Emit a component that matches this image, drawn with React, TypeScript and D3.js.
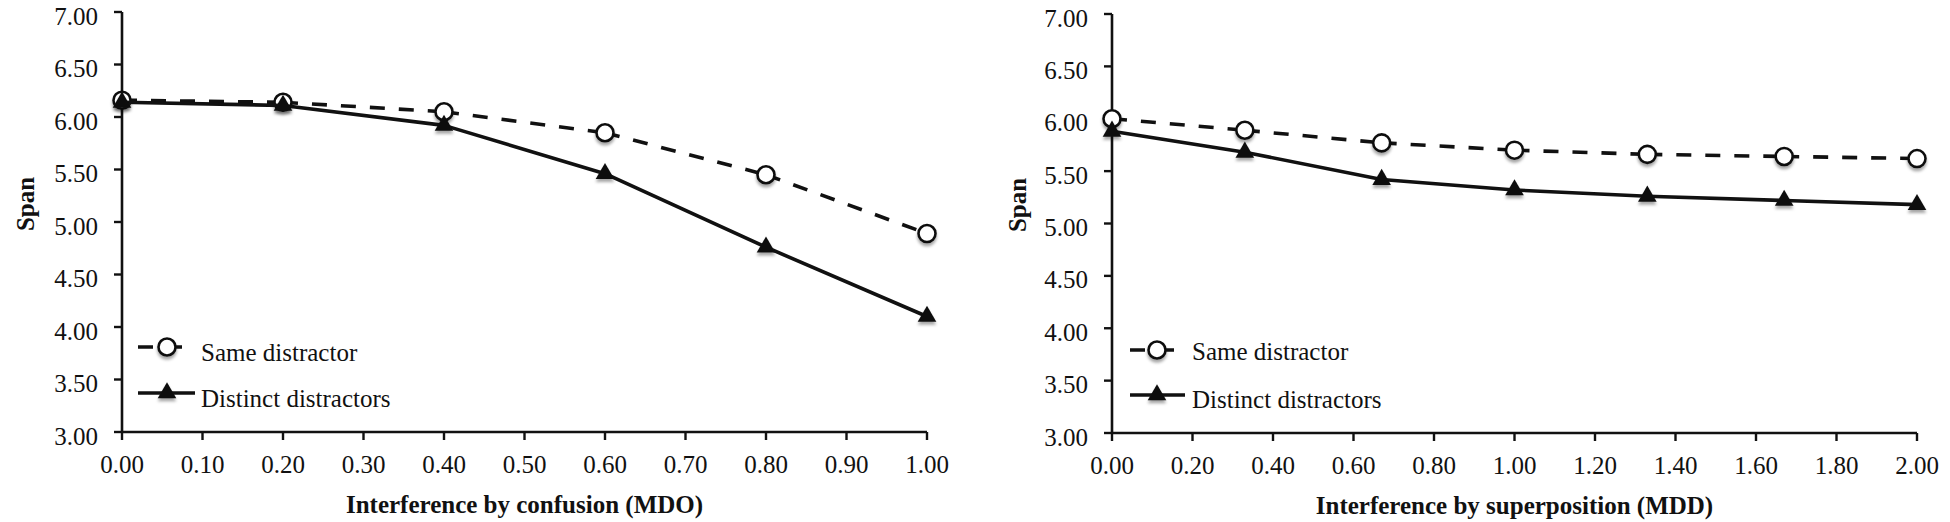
import React from 'react';
import * as d3 from 'd3';

// values
const leftX = [0, 0.2, 0.4, 0.6, 0.8, 1.0];
const leftSame = [6.16, 6.14, 6.05, 5.85, 5.45, 4.89];
const leftDistinct = [6.14, 6.11, 5.92, 5.46, 4.76, 4.10];

const rightX = [0, 0.33, 0.67, 1.0, 1.33, 1.67, 2.0];
const rightSame = [6.0, 5.89, 5.77, 5.7, 5.66, 5.64, 5.62];
const rightDistinct = [5.88, 5.68, 5.42, 5.32, 5.26, 5.22, 5.18];

const yTicks = [3, 3.5, 4, 4.5, 5, 5.5, 6, 6.5, 7];
const leftXTicks = [0, 0.1, 0.2, 0.3, 0.4, 0.5, 0.6, 0.7, 0.8, 0.9, 1.0];
const rightXTicks = [0, 0.2, 0.4, 0.6, 0.8, 1.0, 1.2, 1.4, 1.6, 1.8, 2.0];

const seriesNames = ['Same distractor', 'Distinct distractors'];

const FONT = '"Liberation Serif", "Times New Roman", serif';
const INK = '#111';
const fmt = d3.format('.2f');

interface PanelProps {
  xs: number[];
  same: number[];
  distinct: number[];
  xTicks: number[];
  xMax: number;
  left: number;
  right: number;
  top: number;
  bottom: number;
  title: string;
  titleY: number;
  span: [number, number];
  legend: { x0: number; x1: number; mx: number; tx: number; y1: number; y2: number; t1: number; t2: number };
}

const triangle = d3.symbol().type(d3.symbolTriangle).size(150)() as string;

const Circle = ({ x, y }: { x: number; y: number }) => (
  <circle cx={x} cy={y} r={8.5} fill="#fff" stroke={INK} strokeWidth={2.6} filter="url(#shadow)" />
);

const Triangle = ({ x, y }: { x: number; y: number }) => (
  <path d={triangle} transform={`translate(${x},${y})`} fill={INK} filter="url(#shadow)" />
);

const Panel: React.FC<PanelProps> = (p) => {
  const x = d3.scaleLinear().domain([0, p.xMax]).range([p.left, p.right]);
  const y = d3.scaleLinear().domain([3, 7]).range([p.bottom, p.top]);
  const line = d3.line<number>().x((_, i) => x(p.xs[i])).y((d) => y(d));

  // Excel restarts the dash pattern on every segment
  const dashedSegments = p.same.slice(1).map((v, i) => [p.same[i], v]);

  return (
    <g>
      {/* axes */}
      <line x1={p.left} x2={p.left} y1={p.top} y2={p.bottom} stroke={INK} strokeWidth={2.6} />
      <line x1={p.left} x2={p.right} y1={p.bottom} y2={p.bottom} stroke={INK} strokeWidth={2.6} />
      {yTicks.map((t) => (
        <g key={'y' + t}>
          <line x1={p.left - 8} x2={p.left} y1={y(t)} y2={y(t)} stroke={INK} strokeWidth={2.4} />
          <text x={p.left - 24} y={y(t) + 12.5} textAnchor="end" fontSize={25} fontFamily={FONT} fill={INK}>
            {fmt(t)}
          </text>
        </g>
      ))}
      {p.xTicks.map((t) => (
        <g key={'x' + t}>
          <line x1={x(t)} x2={x(t)} y1={p.bottom} y2={p.bottom + 8} stroke={INK} strokeWidth={2.4} />
          <text x={x(t)} y={p.bottom + 41} textAnchor="middle" fontSize={25} fontFamily={FONT} fill={INK}>
            {fmt(t)}
          </text>
        </g>
      ))}
      <text
        x={(p.left + p.right) / 2}
        y={p.titleY}
        textAnchor="middle"
        fontSize={25}
        fontWeight="bold"
        fontFamily={FONT}
        fill={INK}
      >
        {p.title}
      </text>
      <text
        transform={`translate(${p.span[0]},${p.span[1]}) rotate(-90)`}
        dy="0.35em"
        textAnchor="middle"
        fontSize={25}
        fontWeight="bold"
        fontFamily={FONT}
        fill={INK}
      >
        Span
      </text>

      {/* same distractor */}
      {dashedSegments.map((seg, i) => (
        <line
          key={'s' + i}
          x1={x(p.xs[i])}
          y1={y(seg[0])}
          x2={x(p.xs[i + 1])}
          y2={y(seg[1])}
          stroke={INK}
          strokeWidth={3.6}
          strokeDasharray="15 14"
        />
      ))}
      {p.same.map((v, i) => (
        <Circle key={'c' + i} x={x(p.xs[i])} y={y(v)} />
      ))}

      {/* distinct distractors */}
      <path d={line(p.distinct) as string} fill="none" stroke={INK} strokeWidth={3.6} strokeLinejoin="round" />
      {p.distinct.map((v, i) => (
        <Triangle key={'t' + i} x={x(p.xs[i])} y={y(v)} />
      ))}

      {/* legend */}
      <line x1={p.legend.x0} x2={p.legend.x1} y1={p.legend.y1} y2={p.legend.y1} stroke={INK} strokeWidth={3.6} strokeDasharray="15 14" />
      <Circle x={p.legend.mx} y={p.legend.y1} />
      <text x={p.legend.tx} y={p.legend.t1} fontSize={25} fontFamily={FONT} fill={INK}>
        {seriesNames[0]}
      </text>
      <line x1={p.legend.x0} x2={p.legend.x1} y1={p.legend.y2} y2={p.legend.y2} stroke={INK} strokeWidth={3.6} />
      <Triangle x={p.legend.mx} y={p.legend.y2} />
      <text x={p.legend.tx} y={p.legend.t2} fontSize={25} fontFamily={FONT} fill={INK}>
        {seriesNames[1]}
      </text>
    </g>
  );
};

export default function App() {
  return (
    <svg
      width={1950}
      height={522}
      style={{ position: 'absolute', left: 0, top: 0, display: 'block', background: '#fff' }}
    >
      <defs>
        <filter id="shadow" x="-50%" y="-50%" width="200%" height="200%">
          <feDropShadow dx={0} dy={3} stdDeviation={1.8} floodColor="#000" floodOpacity={0.35} />
        </filter>
      </defs>
      <rect width={1950} height={522} fill="#fff" />
      <Panel
        xs={leftX}
        same={leftSame}
        distinct={leftDistinct}
        xTicks={leftXTicks}
        xMax={1}
        left={122}
        right={927}
        top={12}
        bottom={432}
        title="Interference by confusion (MDO)"
        titleY={513}
        span={[25, 204]}
        legend={{ x0: 138, x1: 195, mx: 167, tx: 201, y1: 347, y2: 393, t1: 361, t2: 407 }}
      />
      <Panel
        xs={rightX}
        same={rightSame}
        distinct={rightDistinct}
        xTicks={rightXTicks}
        xMax={2}
        left={1112}
        right={1917}
        top={14}
        bottom={433}
        title="Interference by superposition (MDD)"
        titleY={514}
        span={[1017, 205]}
        legend={{ x0: 1130, x1: 1185, mx: 1157, tx: 1192, y1: 350, y2: 395, t1: 360, t2: 408 }}
      />
    </svg>
  );
}
